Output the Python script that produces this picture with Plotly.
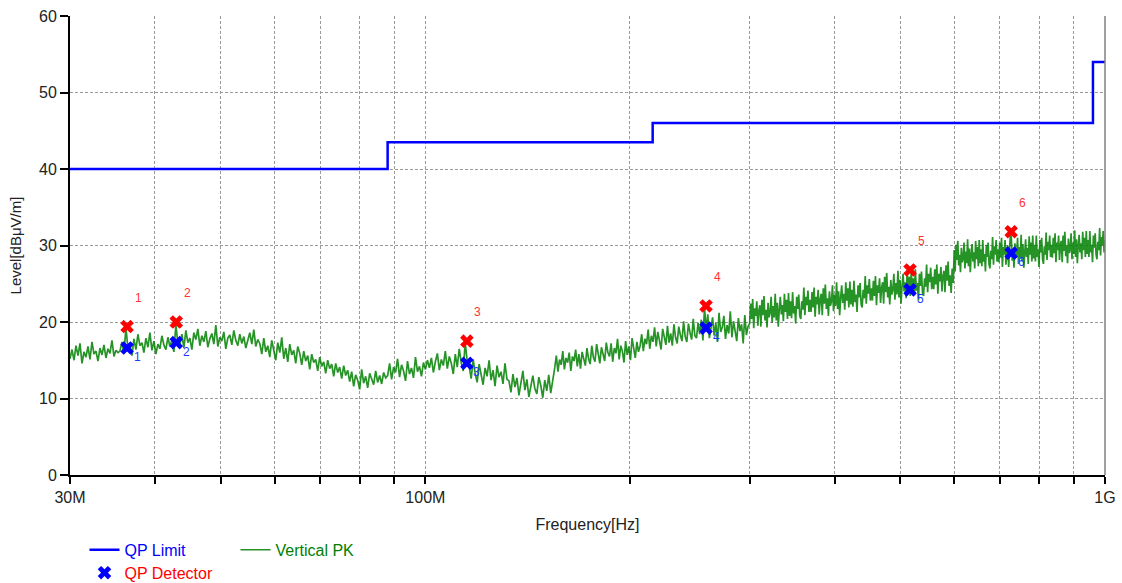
import numpy as np
import plotly.graph_objects as go

# ---------------- data ----------------
limit_freq = [30e6, 88e6, 216e6, 960e6, 1e9]
limit_level = [40, 43.5, 46, 54, 54]

seg_edges = [30e6, 88e6, 155e6, 300e6, 600e6, 1e9]

pk_a = [15.2, 16.4, 15.0, 16.9, 15.6, 17.2, 14.6, 16.1, 15.4, 16.8, 15.1, 17.4, 15.8, 16.2, 14.9, 16.6, 15.7, 17.0, 15.3, 16.5, 15.9, 17.6, 15.5, 16.3, 16.0,
        16.2, 17.4, 15.9, 19.2, 16.6, 17.0, 15.6, 17.8, 16.4, 18.4, 16.9, 17.3, 16.0, 17.9, 16.7, 18.6, 16.3, 17.5, 15.8, 17.1, 16.5, 18.2, 17.0, 16.4, 18.0, 16.8, 17.6, 16.1, 19.6, 17.2,
        17.0, 18.4, 16.6, 18.9, 17.3, 17.9, 16.4, 18.6, 17.7, 19.1, 16.9, 18.2, 17.4, 18.8, 16.7, 17.8, 18.5, 17.1, 19.6, 16.8, 18.0, 17.5, 18.7, 16.5, 17.9, 18.3, 17.0, 18.9, 17.6, 16.9, 18.4, 17.2, 18.1, 16.6, 17.8, 18.6, 17.1, 19.0, 16.8, 17.7,
        17.2, 15.8, 17.9, 16.1, 16.9, 15.4, 17.6, 16.4, 15.0, 17.3, 16.0, 18.0, 15.2, 16.6, 14.8, 17.1, 15.7, 16.3, 14.6, 16.8,
        15.9, 14.4, 16.2, 14.9, 15.6, 13.8, 15.8, 14.7, 15.1, 13.6, 15.4, 14.2, 14.8, 13.3, 15.0, 13.9, 14.5, 12.9, 14.6, 13.4, 14.1, 12.6, 14.3, 13.0, 13.7,
        12.2, 13.5, 11.6, 13.1, 12.4, 11.2, 13.8, 12.0, 12.9, 11.4, 13.3, 12.6, 11.8, 13.6, 12.1, 13.0, 11.9, 13.4, 12.7]

pk_b = [13.0, 14.6, 12.5, 14.1, 13.4, 15.2, 12.8, 14.4, 13.6, 12.3, 14.9, 13.2, 14.0, 12.7, 15.4, 13.5, 14.2, 12.9, 14.7, 13.8, 15.0,
        14.0, 15.3, 13.4, 14.8, 15.9, 13.7, 15.1, 14.3, 16.2, 13.9, 15.5, 14.6, 13.2, 15.8, 14.1, 16.5, 14.7, 13.6, 17.3, 14.9,
        14.2, 12.6, 15.1, 13.3, 12.1, 14.5, 13.0, 11.8, 14.0, 12.9, 15.0, 12.4, 13.7, 11.6, 14.3, 12.8, 13.5, 11.9, 14.6, 12.5,
        12.3, 10.8, 13.2, 11.5, 12.7, 10.4, 12.0, 13.6, 11.1, 12.5, 10.2, 11.9, 13.0, 11.3, 10.6, 12.8, 11.7, 10.1, 12.4, 11.0, 13.1, 10.7, 12.2]

pk_c = [14.0, 15.6, 13.5, 15.1, 14.4, 16.2, 13.8, 15.3, 14.7, 16.0, 13.6, 15.5, 14.9, 16.4, 14.2, 15.8, 13.9, 16.1, 15.0, 14.3, 16.6, 15.2, 14.5, 16.9, 15.4, 14.8, 17.1, 15.6, 14.6, 16.7, 15.9, 14.9, 17.3, 16.0,
        15.5, 17.2, 14.8, 16.6, 15.9, 17.8, 15.1, 16.9, 16.2, 14.7, 17.5, 15.7, 16.8, 15.0, 17.9, 16.4, 15.3, 17.4, 16.1,
        16.9, 18.4, 16.2, 17.8, 17.1, 19.0, 16.5, 18.2, 17.4, 19.3, 16.8, 18.7, 17.6, 16.4, 19.1, 17.9, 17.0, 19.5, 17.3, 18.5, 16.9, 19.7, 18.0, 17.2, 19.4, 18.3, 17.5, 20.1, 18.1, 17.4, 19.8, 18.6, 17.7, 20.4, 18.2, 17.9, 19.9,
        18.4, 20.3, 17.6, 21.9, 18.9, 21.0, 17.9, 19.5, 20.6, 18.2, 19.9, 17.4, 21.2, 18.7, 19.3, 20.8, 17.8, 19.6, 18.5, 21.4, 18.0, 20.1, 19.0, 17.5, 20.5, 18.8, 19.7, 17.2, 20.9, 18.3, 19.4]

pk_d = [19.8, 22.4, 20.4, 23.0, 19.2, 21.8, 20.8, 22.7, 19.5, 21.5,
        22.2, 19.4, 22.9, 20.9, 23.4, 20.2, 21.6, 19.3, 22.5, 20.6,
        21.2, 23.3, 19.9, 22.1, 20.6, 23.7, 20.2, 22.5, 19.4, 21.7,
        23.3, 21.0, 22.2, 20.1, 23.7, 21.3, 22.9, 20.4, 23.8, 20.8,
        22.7, 20.5, 23.9, 21.1, 22.1, 19.8, 23.3, 21.7, 23.6, 20.8,
        20.4, 22.7, 21.6, 24.5, 20.9, 23.3, 22.2, 24.1, 21.3, 22.9,
        21.3, 23.9, 21.9, 24.5, 20.7, 23.3, 22.3, 24.2, 21.0, 23.0,
        23.7, 20.9, 24.4, 22.4, 24.9, 21.7, 23.1, 20.8, 24.0, 22.1,
        22.7, 24.8, 21.4, 23.6, 22.1, 25.2, 21.7, 24.0, 20.9, 23.2,
        24.8, 22.5, 23.7, 21.6, 25.2, 22.8, 24.4, 21.9, 25.3, 22.3,
        24.2, 22.0, 25.4, 22.6, 23.6, 21.3, 24.8, 23.2, 25.1, 22.3,
        21.9, 24.2, 23.1, 26.0, 22.4, 24.8, 23.7, 25.6, 22.8, 24.4,
        22.8, 25.4, 23.4, 26.0, 22.2, 24.8, 23.8, 25.7, 22.5, 24.5,
        25.2, 22.4, 25.9, 23.9, 26.4, 23.2, 24.6, 22.3, 25.5, 23.6,
        24.2, 26.3, 22.9, 25.1, 23.6, 26.7, 23.2, 25.5, 22.4, 24.7,
        26.3, 24.0, 25.2, 23.1, 26.7, 24.3, 25.9, 23.4, 26.8, 23.8,
        25.7, 23.5, 26.9, 24.1, 25.1, 22.8, 26.3, 24.7, 26.6, 23.8,
        23.4, 25.7, 24.6, 27.5, 23.9, 26.3, 25.2, 27.1, 24.3, 25.9,
        24.3, 26.9, 24.9, 27.5, 23.7, 26.3, 25.3, 27.2, 24.0, 26.0,
        26.7, 23.9, 27.4, 25.4, 27.9, 24.7, 26.1, 23.8, 27.0, 25.1]

pk_e = [29.4, 26.6, 30.1, 28.1, 30.6, 27.4, 28.8, 26.5, 29.7, 27.8,
        28.3, 30.4, 27.0, 29.2, 27.7, 30.8, 27.3, 29.6, 26.5, 28.8,
        30.2, 27.9, 29.1, 27.0, 30.6, 28.2, 29.8, 27.3, 30.7, 27.7,
        29.5, 27.3, 30.7, 27.9, 28.9, 26.6, 30.1, 28.5, 30.4, 27.6,
        27.0, 29.3, 28.2, 31.1, 27.5, 29.9, 28.8, 30.7, 27.9, 29.5,
        27.8, 30.4, 28.4, 31.0, 27.2, 29.8, 28.8, 30.7, 27.5, 29.5,
        30.0, 27.2, 30.7, 31.6, 31.2, 28.0, 29.4, 27.1, 30.3, 28.4,
        28.9, 31.0, 27.6, 29.8, 28.3, 31.4, 27.9, 30.2, 27.1, 29.4,
        30.8, 28.5, 29.7, 27.6, 31.2, 28.8, 30.4, 27.9, 31.3, 28.3,
        30.1, 27.9, 31.3, 28.5, 29.5, 27.2, 30.7, 29.1, 31.0, 28.2,
        27.6, 29.9, 28.8, 31.7, 28.1, 30.5, 29.4, 31.3, 28.5, 30.1,
        28.4, 31.0, 29.0, 31.6, 27.8, 30.4, 29.4, 31.3, 28.1, 30.1,
        30.6, 27.8, 31.3, 29.3, 31.8, 28.6, 30.0, 27.7, 30.9, 29.0,
        29.5, 31.6, 28.2, 30.4, 28.9, 32.0, 28.5, 30.8, 27.7, 30.0,
        31.4, 29.1, 30.3, 28.2, 31.8, 29.4, 31.0, 28.5, 31.9, 28.9,
        30.7, 28.5, 31.9, 29.1, 30.1, 27.8, 31.3, 29.7, 31.6, 28.8,
        28.2, 30.5, 29.4, 32.3, 28.7, 31.1, 30.0, 31.9, 29.1, 30.7]

mk_freq = [36.4e6, 43.0e6, 115.1e6, 258.8e6, 516.6e6, 727.7e6]
mk_pk = [19.4, 20.0, 17.5, 22.1, 26.8, 31.8]
mk_qp = [16.6, 17.3, 14.6, 19.2, 24.2, 29.0]
mk_labels = ["1", "2", "3", "4", "5", "6"]

grid_freq = [30e6, 40e6, 50e6, 60e6, 70e6, 80e6, 90e6, 100e6, 200e6, 300e6, 400e6,
             500e6, 600e6, 700e6, 800e6, 900e6, 1e9]
grid_text = ["30M", "", "", "", "", "", "", "100M", "", "", "", "", "", "", "", "", "1G"]

# ---------------- build trace ----------------
segs = [pk_a, pk_b, pk_c, pk_d, pk_e]
f_all, v_all = [], []
for i, vals in enumerate(segs):
    last = i == len(segs) - 1
    f = np.geomspace(seg_edges[i], seg_edges[i + 1], len(vals), endpoint=last)
    f_all.extend(f.tolist())
    v_all.extend(vals)

FONT = "Liberation Sans, Arial, sans-serif"

fig = go.Figure()

fig.add_trace(go.Scatter(
    x=limit_freq, y=limit_level, mode="lines", line=dict(color="#0000ff", width=2.5, shape="hv"),
    name='<span style="color:#0000ff">QP Limit</span>', legend="legend", hoverinfo="skip"))
fig.add_trace(go.Scatter(
    x=f_all, y=v_all, mode="lines", line=dict(color="rgba(0,128,0,0.85)", width=1.7),
    name='<span style="color:#008000">Vertical PK</span>', legend="legend", hoverinfo="skip"))
fig.add_trace(go.Scatter(
    x=mk_freq, y=mk_pk, mode="markers", marker=dict(symbol="x", size=12, color="#ff0000", line=dict(width=0)),
    showlegend=False))
fig.add_trace(go.Scatter(
    x=mk_freq, y=mk_qp, mode="markers", marker=dict(symbol="x", size=12, color="#0000ff", line=dict(width=0)),
    name='<span style="color:#ff0000">QP Detector</span>', legend="legend2"))

for f, p, q, t in zip(mk_freq, mk_pk, mk_qp, mk_labels):
    fig.add_annotation(x=np.log10(f), y=p, text=t, showarrow=False, xshift=11, yshift=29,
                       font=dict(color="#ff3333", size=12, family=FONT))
    fig.add_annotation(x=np.log10(f), y=q, text=t, showarrow=False, xshift=10, yshift=-9,
                       font=dict(color="#1a3cff", size=12, family=FONT))

fig.add_shape(type="line", xref="paper", yref="paper", x0=1, x1=1, y0=0, y1=1,
              line=dict(color="#808080", width=1.5))

fig.update_xaxes(
    type="log", range=[np.log10(30e6), 9], tickvals=grid_freq, ticktext=grid_text,
    showgrid=True, gridcolor="#9a9a9a", griddash="3px,2px", gridwidth=1,
    showline=True, linecolor="#000000", linewidth=2, ticks="outside", ticklen=7,
    tickcolor="#000000", tickwidth=1.5, automargin=False,
    tickfont=dict(size=16, color="#222222", family=FONT),
    title=dict(text="Frequency[Hz]", font=dict(size=16, color="#222222", family=FONT), standoff=14),
    zeroline=False)
fig.update_yaxes(
    range=[0, 60], dtick=10, showgrid=True, gridcolor="#9a9a9a", griddash="3px,2px", gridwidth=1,
    showline=True, linecolor="#000000", linewidth=2, ticks="outside", ticklen=8,
    tickcolor="#000000", tickwidth=1.5, automargin=False,
    tickfont=dict(size=16, color="#222222", family=FONT),
    title=dict(text="Level[dBμV/m]", font=dict(size=15, color="#222222", family=FONT), standoff=14),
    zeroline=False)

fig.update_layout(
    width=1122, height=583, autosize=False,
    margin=dict(l=70, r=17, t=16, b=108, autoexpand=False),
    paper_bgcolor="white", plot_bgcolor="white",
    font=dict(family=FONT),
    legend=dict(orientation="h", x=0.014, y=-0.126, xanchor="left", yanchor="top",
                font=dict(size=16, family=FONT), entrywidth=106, entrywidthmode="pixels",
                bgcolor="rgba(0,0,0,0)", itemwidth=30, tracegroupgap=0),
    legend2=dict(orientation="h", x=0.014, y=-0.176, xanchor="left", yanchor="top",
                 font=dict(size=16, family=FONT), bgcolor="rgba(0,0,0,0)", itemwidth=30),
)

fig.write_html("out.html")
